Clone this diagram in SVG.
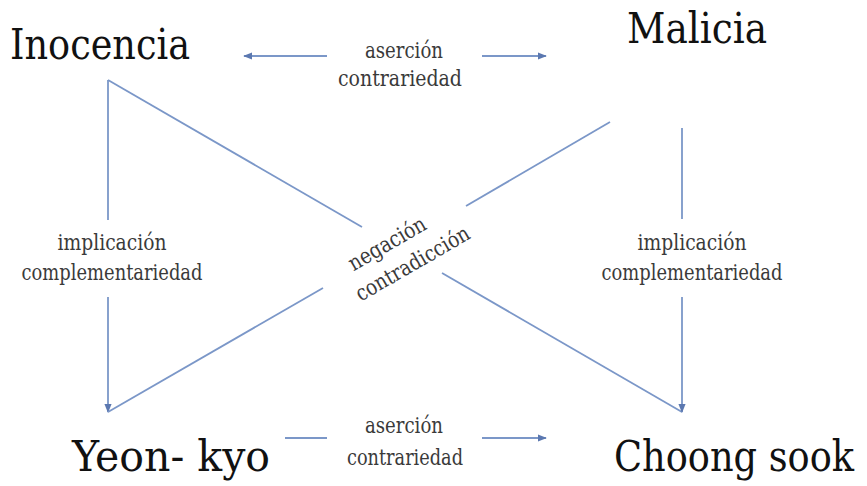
<svg xmlns="http://www.w3.org/2000/svg" width="867" height="486" viewBox="0 0 867 486">
<style>
.node{font-size:42px;fill:#111}
.lbl{font-size:22px;fill:#3a3a3a;text-anchor:middle}
.ln{stroke:#7b97c8;stroke-width:1.8;fill:none}
</style>
<defs>
<marker id="ah" viewBox="0 0 10 10" refX="9" refY="5" markerWidth="9" markerHeight="9" markerUnits="userSpaceOnUse" orient="auto">
<path d="M0,1 L10,5 L0,9 Z" fill="#5b78b0"/>
</marker>
</defs>
<rect width="867" height="486" fill="#fff"/>
<g id="connectors">
<line class="ln" x1="108" y1="80" x2="108" y2="220"/>
<line class="ln" x1="108" y1="297" x2="108" y2="412" marker-end="url(#ah)"/>
<line class="ln" x1="108" y1="80" x2="362" y2="227"/>
<line class="ln" x1="442" y1="273" x2="682" y2="412"/>
<line class="ln" x1="610" y1="122" x2="466" y2="206"/>
<line class="ln" x1="323" y1="288" x2="108" y2="412"/>
<line class="ln" x1="682" y1="128" x2="682" y2="219"/>
<line class="ln" x1="682" y1="297" x2="682" y2="412" marker-end="url(#ah)"/>
<line class="ln" x1="327" y1="56" x2="244" y2="56" marker-end="url(#ah)"/>
<line class="ln" x1="482" y1="56" x2="546" y2="56" marker-end="url(#ah)"/>
<line class="ln" x1="285" y1="438" x2="327" y2="438"/>
<line class="ln" x1="482" y1="438" x2="546" y2="438" marker-end="url(#ah)"/>
</g>
<g font-family="DejaVu Serif Condensed, DejaVu Serif, serif" font-stretch="condensed">
<g id="inocencia"><text class="node" x="10" y="59" textLength="180" lengthAdjust="spacingAndGlyphs">Inocencia</text></g>
<g id="malicia"><text class="node" x="627" y="43" textLength="140" lengthAdjust="spacingAndGlyphs">Malicia</text></g>
<g id="yeonkyo"><text class="node" x="72" y="471" textLength="198" lengthAdjust="spacingAndGlyphs">Yeon- kyo</text></g>
<g id="choongsook"><text class="node" x="614" y="471" textLength="240" lengthAdjust="spacingAndGlyphs">Choong sook</text></g>
<g id="lbl-top">
<text class="lbl" x="404" y="58" textLength="78" lengthAdjust="spacingAndGlyphs">aserción</text>
<text class="lbl" x="400" y="86" textLength="124" lengthAdjust="spacingAndGlyphs">contrariedad</text>
</g>
<g id="lbl-bottom">
<text class="lbl" x="404" y="433" textLength="78" lengthAdjust="spacingAndGlyphs">aserción</text>
<text class="lbl" x="405" y="465" textLength="116" lengthAdjust="spacingAndGlyphs">contrariedad</text>
</g>
<g id="lbl-left">
<text class="lbl" x="112" y="250" textLength="109" lengthAdjust="spacingAndGlyphs">implicación</text>
<text class="lbl" x="112" y="280" textLength="181" lengthAdjust="spacingAndGlyphs">complementariedad</text>
</g>
<g id="lbl-right">
<text class="lbl" x="692" y="250" textLength="109" lengthAdjust="spacingAndGlyphs">implicación</text>
<text class="lbl" x="692" y="280" textLength="181" lengthAdjust="spacingAndGlyphs">complementariedad</text>
</g>
<g id="lbl-center" transform="translate(403,259) rotate(-30)">
<text class="lbl" x="-6" y="-14" textLength="86" lengthAdjust="spacingAndGlyphs">negación</text>
<text class="lbl" x="6" y="16" textLength="128" lengthAdjust="spacingAndGlyphs">contradicción</text>
</g>
</g>
</svg>
